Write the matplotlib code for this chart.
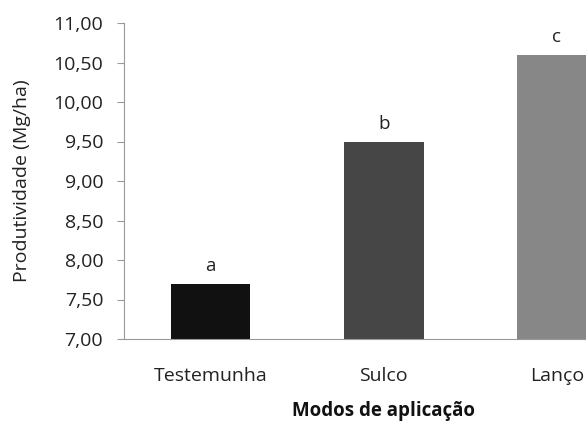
import numpy as np
from matplotlib import pyplot as plt

# Data
modos = ['Testemunha', 'Sulco', 'Lanço']
produtividade = [7.70, 9.50, 10.60]
letras = ['a', 'b', 'c']
cores = ['#111111', '#464646', '#878787']
y_ticks = [7.0, 7.5, 8.0, 8.5, 9.0, 9.5, 10.0, 10.5, 11.0]

plt.rcParams['font.family'] = ['Open Sans', 'DejaVu Sans']

fig = plt.figure(figsize=(5.86, 4.30), dpi=100)
# axes extends past the right edge, like the cropped original
ax = fig.add_axes([124 / 586, 91 / 430, 519.5 / 586, 316 / 430])

x = np.arange(len(modos))
ax.bar(x, produtividade, width=0.46, color=cores)
for xi, val, letra in zip(x, produtividade, letras):
    ax.text(xi, val + 0.11, letra, ha='center', va='bottom', fontsize=13.5, color='#222222')

ax.set_xlim(-0.5, 2.5)
ax.set_ylim(7.0, 11.0)
ax.set_yticks(y_ticks)
ax.set_yticklabels([f'{v:.2f}'.replace('.', ',') for v in y_ticks], fontsize=14, color='#222222')
ax.set_xticks(x)
ax.set_xticklabels(modos, fontsize=14, color='#222222')

for side in ('top', 'right'):
    ax.spines[side].set_visible(False)
for side in ('left', 'bottom'):
    ax.spines[side].set_color('#999999')
ax.tick_params(axis='y', length=5, color='#999999', pad=10)
ax.tick_params(axis='x', length=0, pad=20)

ax.set_ylabel('Produtividade (Mg/ha)', fontsize=14, color='#222222', va='center')
ax.yaxis.set_label_coords((22 - 124) / 519.5, 0.5)
ax.set_xlabel('Modos de aplicação', fontsize=13.5, fontweight='bold', color='#111111', va='center')
ax.xaxis.set_label_coords(0.5, (339 - 411) / 316)

plt.savefig('out.png', dpi=100)
